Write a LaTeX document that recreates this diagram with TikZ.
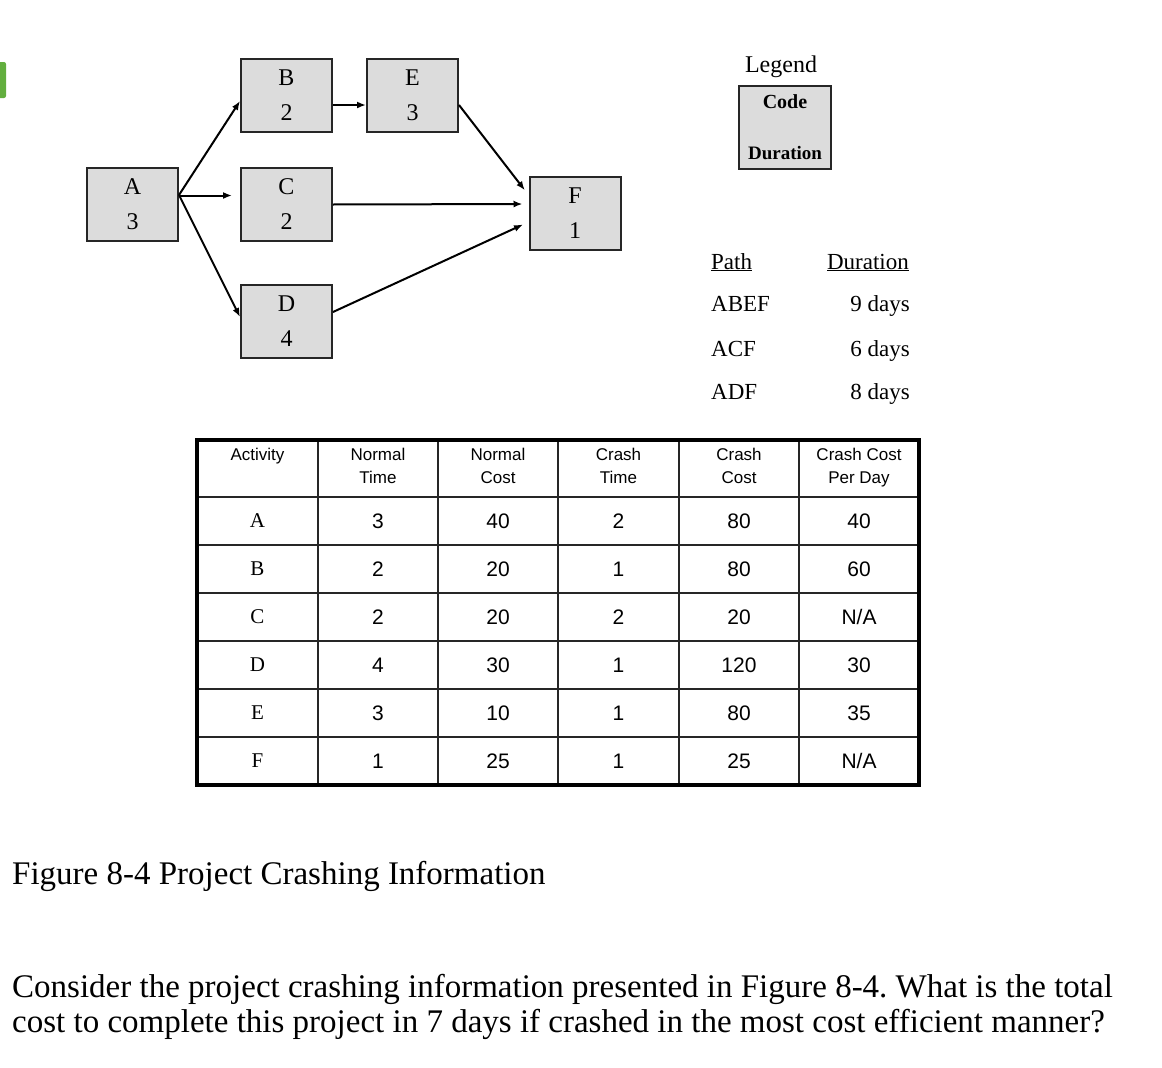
\documentclass[tikz,border=0pt]{standalone}
\usepackage{fontspec}
\setmainfont{Liberation Serif}
\setsansfont{Liberation Sans}
\usetikzlibrary{arrows.meta,positioning}
\frenchspacing

\definecolor{boxgray}{HTML}{DCDCDC}
\definecolor{iconGreen}{HTML}{62AE3E}

\begin{document}
\begin{tikzpicture}[x=1pt,y=-1pt,
  act/.style={draw=black!85,line width=2pt,fill=boxgray,minimum width=91pt,minimum height=73pt,
    align=center,inner sep=0pt,font=\fontsize{24}{35}\selectfont},
  link/.style={line width=2pt,-{Latex[length=9pt,width=7pt]}},
  hdr/.style={anchor=north,align=center,inner sep=0pt,font=\sffamily\fontsize{17}{23}\selectfont},
  cell/.style={inner sep=0pt,font=\sffamily\fontsize{21}{24}\selectfont},
  pathtxt/.style={inner sep=0pt,font=\fontsize{23}{26}\selectfont}]
\useasboundingbox (0,0) rectangle (1162,1068);

% cropped icon at the left edge
\fill[iconGreen,rounded corners=2pt] (-4,62) rectangle (6,98);

% network
\node[act] (A) at (132.5,204.5) {A\\3};
\node[act] (B) at (286.5,95.5) {B\\2};
\node[act] (C) at (286.5,204.5) {C\\2};
\node[act] (D) at (286.5,321.5) {D\\4};
\node[act] (E) at (412.5,95.5) {E\\3};
\node[act] (F) at (575,213) {F\\1};

\draw[link] ([yshift=9.5pt]A.east) -- ([yshift=-5.5pt]B.west);
\draw[link,shorten >=8pt] ([yshift=9pt]A.east) -- ([yshift=9pt]C.west);
\draw[link] ([yshift=9.5pt]A.east) -- ([yshift=4.5pt]D.west);
\draw[link] ([yshift=-9.5pt]B.east) -- ([yshift=-9.5pt]E.west);
\draw[link,shorten >=6pt] ([yshift=-9.5pt]E.east) -- ([yshift=18pt]F.west);
\draw[link,shorten >=6pt] ([yshift=0pt]C.east) -- ([yshift=9pt]F.west);
\draw[link,shorten >=6pt] ([yshift=9.5pt]D.east) -- ([yshift=-9pt]F.west);

% legend
\node[font=\fontsize{24}{26}\selectfont] (legend) at (781,67) {Legend};
\node[draw=black!85,line width=2pt,fill=boxgray,minimum width=92pt,minimum height=83pt,
  inner sep=0pt] (key) at (785,127.5) {};
\node[font=\bfseries\fontsize{20}{22}\selectfont] (code) at (785,102) {Code};
\node[font=\bfseries\fontsize{19}{22}\selectfont] (dur) at (785,153) {Duration};

% paths
\node[pathtxt,anchor=base west] (ph) at (711,269) {\underline{Path}};
\node[pathtxt,anchor=base east] (dh) at (909,269) {\underline{Duration}};
\node[pathtxt,anchor=base west] (p1) at (711,311) {ABEF};
\node[pathtxt,anchor=base east] (d1) at (910,311) {9 days};
\node[pathtxt,anchor=base west] (p2) at (711,356) {ACF};
\node[pathtxt,anchor=base east] (d2) at (910,356) {6 days};
\node[pathtxt,anchor=base west] (p3) at (711,399) {ADF};
\node[pathtxt,anchor=base east] (d3) at (910,399) {8 days};

% crashing table
\foreach \x in {318,438,558,679,799}
  \draw[line width=1.8pt,black!85] (\x,440) -- (\x,785);
\foreach \y in {497,545,593,641,689,737}
  \draw[line width=1.8pt,black!85] (197,\y) -- (919,\y);
\draw[line width=4pt] (197,440) rectangle (919,785);

\foreach \x/\t [count=\i] in {257.5/Activity,378/{Normal\\Time},498/{Normal\\Cost},
    618.5/{Crash\\Time},739/{Crash\\Cost},859/{Crash Cost\\Per Day}}
  \node[hdr] (h\i) at (\x,448) {\t};

\foreach \a/\b/\c/\d/\e/\f [count=\r] in {A/3/40/2/80/40,B/2/20/1/80/60,C/2/20/2/20/N\slash A,
    D/4/30/1/120/30,E/3/10/1/80/35,F/1/25/1/25/N\slash A}{
  \pgfmathsetmacro{\yy}{521+48*(\r-1)}
  \node[cell,font=\fontsize{21}{24}\selectfont] (a\r) at (257.5,\yy) {\a};
  \node[cell] (b\r) at (378,\yy) {\b};
  \node[cell] (c\r) at (498,\yy) {\c};
  \node[cell] (d\r) at (618.5,\yy) {\d};
  \node[cell] (e\r) at (739,\yy) {\e};
  \node[cell] (f\r) at (859,\yy) {\f};
}

% caption and question
\node[anchor=base west,inner sep=0pt,font=\fontsize{33}{35}\selectfont] (cap) at (12,884)
  {Figure 8-4 Project Crashing Information};
\node[anchor=base west,inner sep=0pt,font=\fontsize{33}{35}\selectfont] (q1) at (12,997)
  {Consider the project crashing information presented in Figure 8-4. What is the total};
\node[anchor=base west,inner sep=0pt,font=\fontsize{33}{35}\selectfont] (q2) at (12,1032)
  {cost to complete this project in 7 days if crashed in the most cost efficient manner?};
\end{tikzpicture}
\end{document}
